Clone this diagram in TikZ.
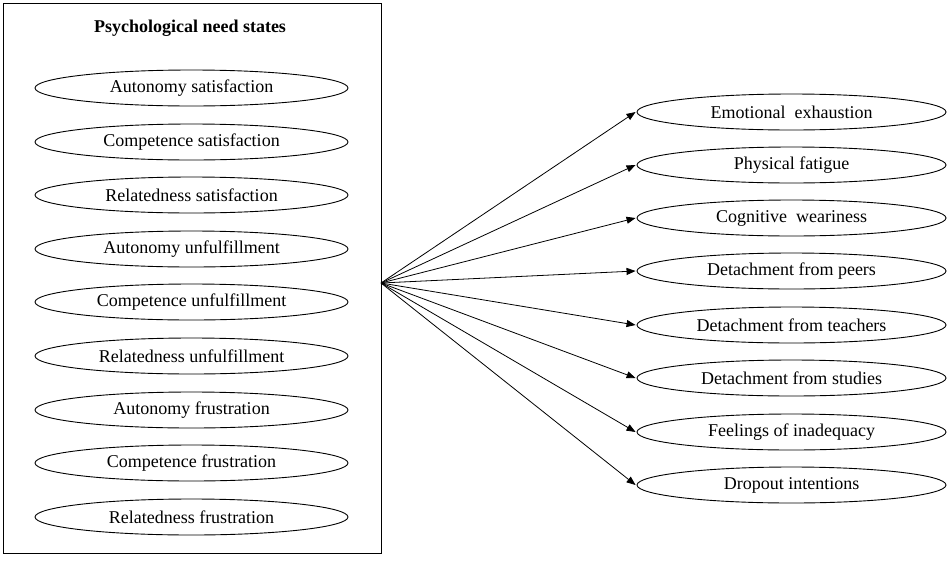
\documentclass[tikz,border=0pt]{standalone}
\usepackage{fontspec}
\setmainfont{Liberation Serif}
\usetikzlibrary{shapes.geometric,arrows.meta}
\begin{document}
\begin{tikzpicture}[x=1pt,y=-1pt,
  need/.style={ellipse,draw,line width=0.9pt,minimum width=313pt,minimum height=36pt,inner sep=0pt,font=\fontsize{18}{20}\selectfont},
  outc/.style={ellipse,draw,line width=0.9pt,minimum width=309pt,minimum height=36pt,inner sep=0pt,font=\fontsize{18}{20}\selectfont},
  link/.style={line width=0.8pt,-{Triangle[length=9pt,width=7pt]}}]
\useasboundingbox (0,0) rectangle (950,563);
\node[draw,line width=1pt,minimum width=378pt,minimum height=550pt,inner sep=0pt,anchor=north west] (box) at (3,3) {};
\node[font=\fontsize{18}{20}\selectfont\bfseries] (title) at (190,28) {Psychological need states};
\node[need] (n1) at (191.5,88) {Autonomy satisfaction};
\node[need] (n2) at (191.5,142) {Competence satisfaction};
\node[need] (n3) at (191.5,195) {Relatedness satisfaction};
\node[need] (n4) at (191.5,249) {Autonomy unfulfillment};
\node[need] (n5) at (191.5,302) {Competence unfulfillment};
\node[need] (n6) at (191.5,356) {Relatedness unfulfillment};
\node[need] (n7) at (191.5,410) {Autonomy frustration};
\node[need] (n8) at (191.5,463) {Competence frustration};
\node[need] (n9) at (191.5,517) {Relatedness frustration};
\coordinate (src) at (381,283);
\node[outc] (o1) at (791.5,112) {Emotional\ \ exhaustion};
\node[outc] (o2) at (791.5,165) {Physical fatigue};
\node[outc] (o3) at (791.5,218) {Cognitive\ \ weariness};
\node[outc] (o4) at (791.5,271) {Detachment from peers};
\node[outc] (o5) at (791.5,325) {Detachment from teachers};
\node[outc] (o6) at (791.5,378) {Detachment from studies};
\node[outc] (o7) at (791.5,432) {Feelings of inadequacy};
\node[outc] (o8) at (791.5,485) {Dropout intentions};
\foreach \i in {1,...,8} {\draw[link] (src) -- ([xshift=-1pt]o\i.west);}
\end{tikzpicture}
\end{document}
